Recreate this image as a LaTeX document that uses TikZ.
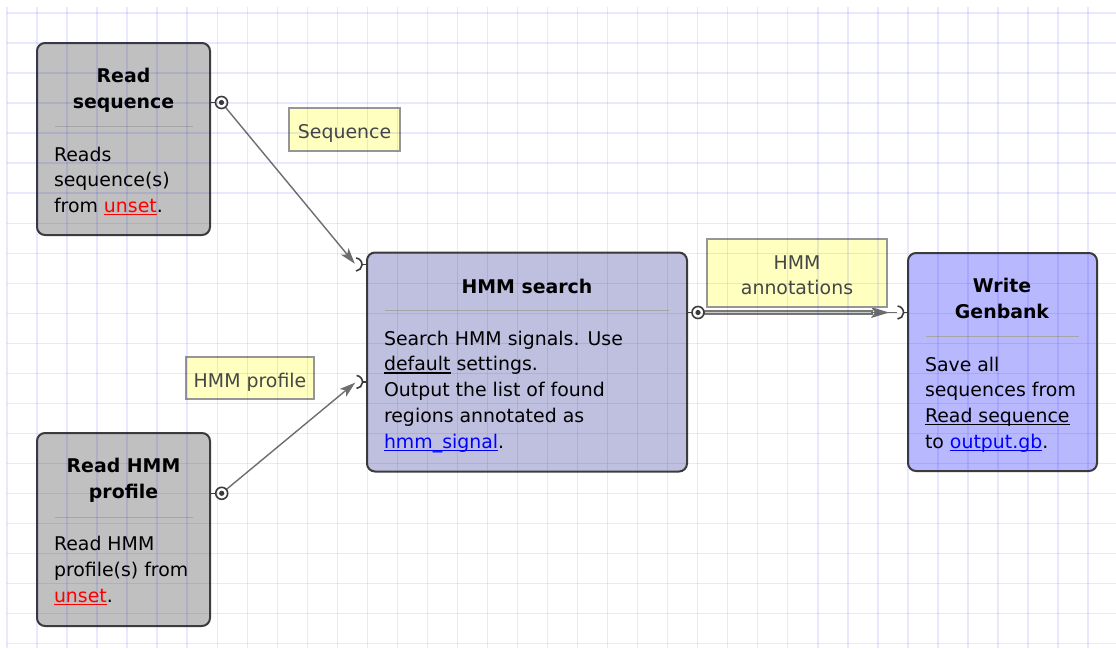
\documentclass[tikz,border=0pt]{standalone}
\usepackage{fontspec}
\setmainfont{DejaVu Sans}
\usetikzlibrary{arrows.meta,calc}
\definecolor{gridc}{RGB}{0,0,255}
\definecolor{rdfill}{RGB}{192,192,192}
\definecolor{hsfill}{RGB}{191,191,224}
\definecolor{wgfill}{RGB}{184,184,255}
\definecolor{bord}{RGB}{60,60,60}
\definecolor{sepc}{RGB}{165,165,165}
\definecolor{lblfill}{RGB}{255,255,192}
\definecolor{lblbord}{RGB}{150,150,150}
\definecolor{lbltxt}{RGB}{70,70,70}
\definecolor{conn}{RGB}{110,110,110}
\definecolor{dblout}{RGB}{120,120,120}
\definecolor{dblin}{RGB}{205,205,205}
\definecolor{linkred}{RGB}{255,0,0}
\definecolor{linkblue}{RGB}{0,0,255}
\newcommand\lnk[2]{\leavevmode{\color{#1}\setbox0\hbox{#2}\rlap{\rule[-2.8pt]{\wd0}{1.3pt}}\box0}}
\begin{document}
\begin{tikzpicture}[x=1pt,y=-1pt,
  every node/.style={inner sep=0pt, outer sep=0pt},
  procbox/.style={draw=bord, line width=2pt, rounded corners=8pt},
  titletext/.style={anchor=base, font=\fontsize{18.9}{26}\selectfont\bfseries},
  bodytext/.style={anchor=base west, font=\fontsize{18.9}{25.8}\selectfont},
  sepline/.style={draw=sepc, line width=1pt},
  lblbox/.style={draw=lblbord, fill=lblfill, line width=1.2pt},
  lbltext/.style={anchor=base, text=lbltxt, font=\fontsize{18.9}{25}\selectfont},
  outport/.style={draw=bord, fill=white, line width=1.6pt},
  inport/.style={draw=bord, line width=1.6pt},
  connline/.style={draw=conn, line width=1.4pt},
  tip/.style={-{Stealth[length=16pt,width=10pt,inset=4pt]}}
]
\useasboundingbox (0,0) rectangle (1116,648);
\fill[white] (0,0) rectangle (1116,648);

% boxes
\node[procbox, fill=rdfill, minimum width=173pt, minimum height=192pt] (rs) at (123.5,139) {};
\node[procbox, fill=rdfill, minimum width=173pt, minimum height=193pt] (rh) at (123.5,529.5) {};
\node[procbox, fill=hsfill, minimum width=320pt, minimum height=219pt] (hs) at (527,362) {};
\node[procbox, fill=wgfill, minimum width=189pt, minimum height=218pt] (wg) at (1002.5,362) {};

% titles
\node[titletext] (rst) at (123.5,82) {\parbox[t]{170pt}{\centering Read\\sequence}};
\node[titletext] (rht) at (123.5,472.7) {\parbox[t]{170pt}{\centering Read HMM\\profile}};
\node[titletext] (hst) at (527,293) {HMM search};
\node[titletext] (wgt) at (1002,292.7) {\parbox[t]{185pt}{\centering Write\\Genbank}};

% separators
\draw[sepline] (55,126) -- (193,126);
\draw[sepline] (55,517) -- (193,517);
\draw[sepline] (385,310) -- (669,310);
\draw[sepline] (926,336.5) -- (1079,336.5);

% bodies
\node[bodytext] (rsb) at (54,161) {\parbox[t]{160pt}{\raggedright Reads\\sequence(s)\\from \lnk{linkred}{unset}.}};
\node[bodytext] (rhb) at (54,550.7) {\parbox[t]{160pt}{\raggedright Read HMM\\profile(s) from\\\lnk{linkred}{unset}.}};
\node[bodytext] (hsb) at (384,345) {\parbox[t]{300pt}{\raggedright Search HMM signals. Use\\\lnk{black}{default} settings.\\Output the list of found\\regions annotated as\\\lnk{linkblue}{hmm\_signal}.}};
\node[bodytext] (wgb) at (925,371) {\parbox[t]{170pt}{\raggedright Save all\\sequences from\\\lnk{black}{Read sequence}\\to \lnk{linkblue}{output.gb}.}};

% ports
\coordinate (rsout) at (221.5,102.5);
\coordinate (rhout) at (221.7,493.3);
\coordinate (hsin1) at (355.5,264.5);
\coordinate (hsin2) at (356,382);
\coordinate (hsout) at (698,312.5);
\coordinate (wgin) at (897,312.5);

% connectors
\draw[connline, tip, shorten >=1pt] (rsout) -- (hsin1);
\draw[connline, tip, shorten >=1pt] (rhout) -- (hsin2);
\draw[draw=dblout, line width=1.3pt, double=dblin, double distance=1.8pt, shorten >=24pt] (hsout) -- (wgin);
\draw[connline] ($(wgin)+(-26,0)$) -- (wgin);
\draw[connline, -{Stealth[length=18pt,width=11pt,inset=4pt]}, shorten >=8pt] ($(wgin)+(-26,0)$) -- (wgin);

% stubs and port glyphs
\draw[inport] (210,102.5) -- (rsout);
\draw[inport] (210,493.3) -- (rhout);
\draw[inport] (687,312.5) -- (hsout);
\draw[inport] ($(hsin1)+(6,0)$) -- (367,264.5);
\draw[inport] ($(hsin2)+(6,0)$) -- (367,382);
\draw[inport] ($(wgin)+(6,0)$) -- (908,312.5);
\draw[outport] (rsout) circle[radius=6];
\fill[bord] (rsout) circle[radius=2.6];
\draw[outport] (rhout) circle[radius=6];
\fill[bord] (rhout) circle[radius=2.6];
\draw[outport] (hsout) circle[radius=6];
\fill[bord] (hsout) circle[radius=2.6];
\draw[inport] (hsin1) ++(-85:6.5) arc[start angle=-85, end angle=85, radius=6.5];
\draw[inport] (hsin2) ++(-85:6.5) arc[start angle=-85, end angle=85, radius=6.5];
\draw[inport] (wgin) ++(-85:6.5) arc[start angle=-85, end angle=85, radius=6.5];

% labels
\node[lblbox, minimum width=111pt, minimum height=43pt] (lseq) at (344.5,129.5) {};
\node[lbltext] (lseqt) at (344.5,138) {Sequence};
\node[lblbox, minimum width=128pt, minimum height=42pt] (lprof) at (250,378) {};
\node[lbltext] (lproft) at (250,387) {HMM profile};
\node[lblbox, minimum width=180pt, minimum height=68pt] (lann) at (797,273) {};
\node[lbltext] (lannt1) at (797,269) {HMM};
\node[lbltext] (lannt2) at (797,294) {annotations};

% grid overlay
\begin{scope}[draw=gridc, draw opacity=0.09, line width=1.4pt]
\foreach \i in {0,...,36} \draw (7+30.03*\i,7) -- (7+30.03*\i,648);
\foreach \j in {0,...,21} \draw (7,13+30.03*\j) -- (1116,13+30.03*\j);
\end{scope}
\end{tikzpicture}
\end{document}
